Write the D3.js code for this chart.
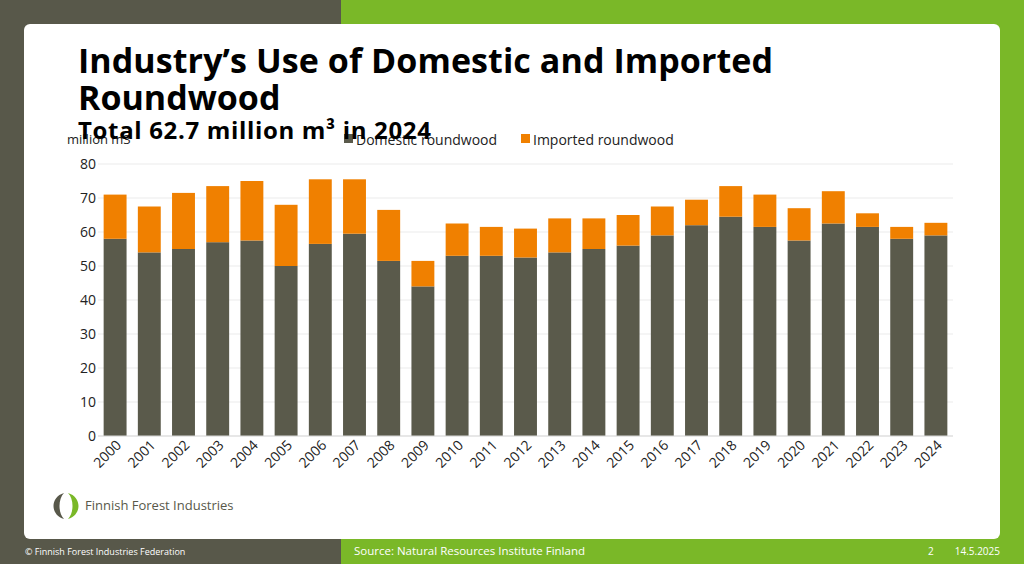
<!DOCTYPE html>
<html><head><meta charset="utf-8">
<script src="https://cdn.jsdelivr.net/npm/d3@7"></script>
<style>body{margin:0;font-family:"Open Sans","Noto Sans",sans-serif;}</style>
</head><body><svg id="c" width="1024" height="564"></svg>
<script>
const years = ["2000","2001","2002","2003","2004","2005","2006","2007","2008","2009","2010","2011","2012","2013","2014","2015","2016","2017","2018","2019","2020","2021","2022","2023","2024"];
const domestic = [58,54,55,57,57.5,50,56.5,59.5,51.5,44,53,53,52.5,54,55,56,59,62,64.5,61.5,57.5,62.5,61.5,58,59];
const imported = [13,13.5,16.5,16.5,17.5,18,19,16,15,7.5,9.5,8.5,8.5,10,9,9,8.5,7.5,9,9.5,9.5,9.5,4,3.5,3.7];
const yTicks = [0,10,20,30,40,50,60,70,80];
const seriesNames = ["Domestic roundwood","Imported roundwood"];
const colors = ["#5a5a4b","#f08000"];

const svg = d3.select("#c");
svg.append("rect").attr("width",1024).attr("height",564).attr("fill","#58584a");
svg.append("rect").attr("x",341).attr("width",683).attr("height",564).attr("fill","#7ab828");
svg.append("rect").attr("x",24).attr("y",24).attr("width",976).attr("height",515).attr("rx",6).attr("fill","#fff");

svg.append("text").attr("x",78).attr("y",73).attr("font-size",34).attr("font-weight","bold").attr("textLength",695).text("Industry’s Use of Domestic and Imported");
svg.append("text").attr("x",78).attr("y",110).attr("font-size",34).attr("font-weight","bold").text("Roundwood");

const x = d3.scaleBand().domain(years).range([98,953]).paddingInner(0.33).paddingOuter(0.165);
const y = d3.scaleLinear().domain([0,80]).range([436,164]);

const g = svg.append("g");
g.selectAll("line.grid").data(yTicks).join("line").attr("x1",98).attr("x2",953)
 .attr("y1",d=>y(d)).attr("y2",d=>y(d)).attr("stroke","#ebebeb");
g.selectAll("text.yt").data(yTicks).join("text").attr("x",96).attr("y",d=>y(d)+5)
 .attr("text-anchor","end").attr("font-size",14).attr("fill","#222").text(d=>d);

const stack = years.map((yr,i)=>({yr,d:domestic[i],m:imported[i]}));
g.selectAll("rect.d").data(stack).join("rect").attr("x",d=>x(d.yr)).attr("width",x.bandwidth())
 .attr("y",d=>y(d.d)).attr("height",d=>y(0)-y(d.d)).attr("fill",colors[0]);
g.selectAll("rect.m").data(stack).join("rect").attr("x",d=>x(d.yr)).attr("width",x.bandwidth())
 .attr("y",d=>y(d.d+d.m)).attr("height",d=>y(d.d)-y(d.d+d.m)).attr("fill",colors[1]);
g.append("line").attr("x1",98).attr("x2",953).attr("y1",436).attr("y2",436).attr("stroke","#d9d9d9");

g.selectAll("text.xt").data(years).join("text")
 .attr("transform",d=>`translate(${x(d)+x.bandwidth()/2+7},${446}) rotate(-45)`)
 .attr("text-anchor","end").attr("font-size",14).attr("fill","#222").text(d=>d);

svg.append("text").attr("x",67).attr("y",144).attr("font-size",13).attr("fill","#222").text("million m3");
const lg = [[344,seriesNames[0]],[521,seriesNames[1]]];
lg.forEach(([lx,t],i)=>{
  svg.append("rect").attr("x",lx).attr("y",134).attr("width",9).attr("height",9).attr("fill",colors[i]);
  svg.append("text").attr("x",lx+12).attr("y",145).attr("font-size",14).attr("fill","#222").text(t);
});
svg.append("text").attr("x",78).attr("y",139).attr("font-size",24).attr("font-weight","bold").attr("textLength",353).text("Total 62.7 million m³ in 2024");

const lgG = svg.append("g");
lgG.append("path").attr("d","M64,493 C50,497 50,515 64,519 C58,513 58,499 64,493Z").attr("fill","#58584a");
lgG.append("path").attr("d","M68,493 C82,497 82,515 68,519 C74,513 74,499 68,493Z").attr("fill","#7ab828");
svg.append("text").attr("x",85).attr("y",510).attr("font-size",13).attr("fill","#58584a").text("Finnish Forest Industries");

svg.append("text").attr("x",25).attr("y",555).attr("font-size",9).attr("fill","#fff").text("© Finnish Forest Industries Federation");
svg.append("text").attr("x",354).attr("y",555).attr("font-size",11.5).attr("fill","#fff").text("Source: Natural Resources Institute Finland");
svg.append("text").attr("x",928).attr("y",555).attr("font-size",10).attr("fill","#fff").text("2");
svg.append("text").attr("x",1000).attr("y",555).attr("text-anchor","end").attr("font-size",10).attr("fill","#fff").text("14.5.2025");
</script></body></html>
